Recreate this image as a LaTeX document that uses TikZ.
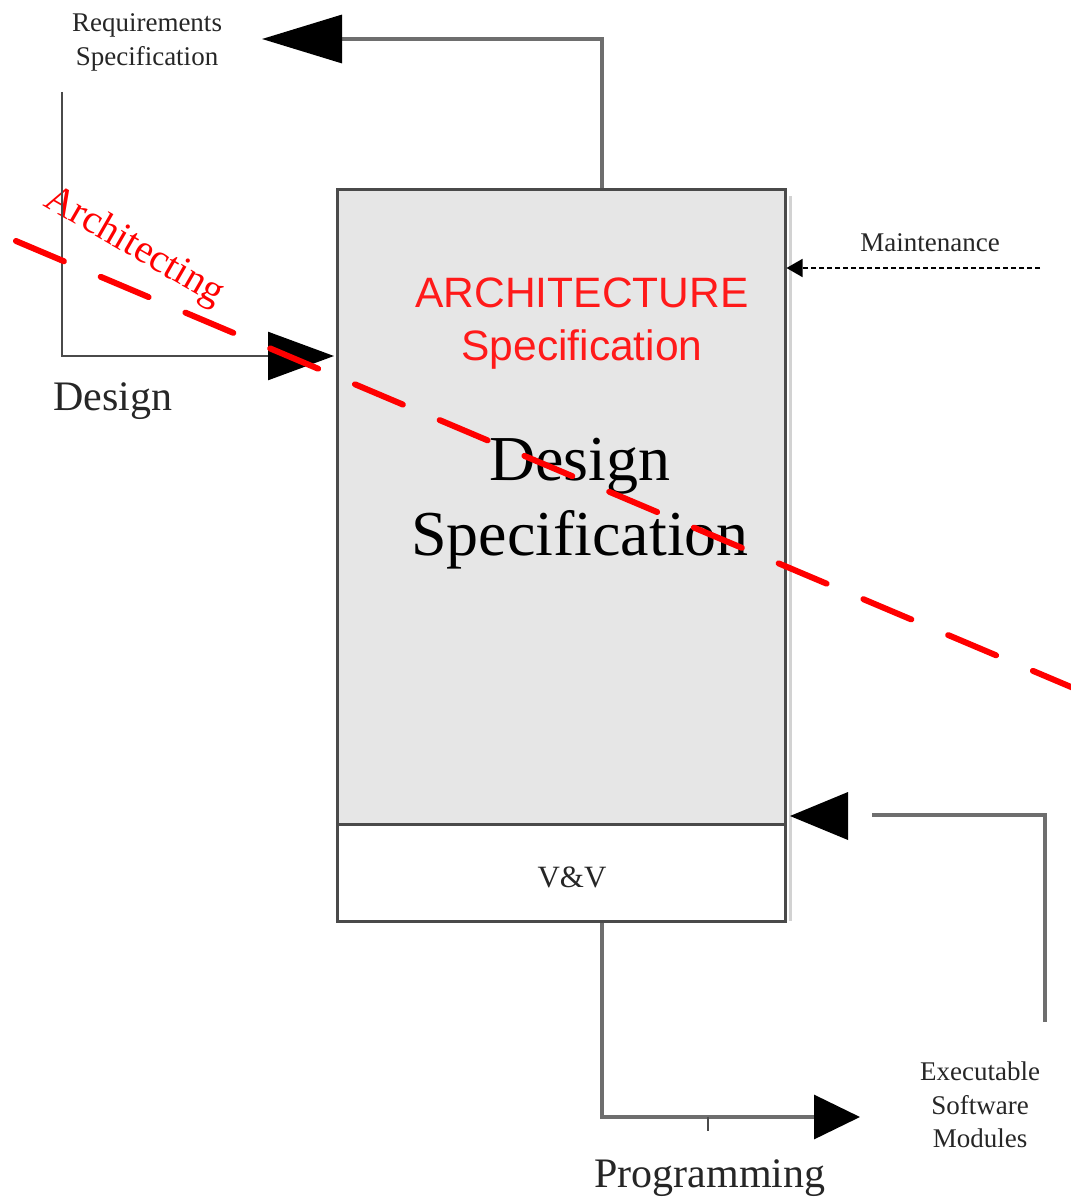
\documentclass[tikz,border=0pt]{standalone}
\usepackage{fontspec}
\setmainfont{Liberation Serif}
\newfontfamily\arialfont{Liberation Sans}
\usetikzlibrary{arrows.meta}
\definecolor{linegray}{HTML}{6E6E6E}
\definecolor{boxgray}{HTML}{E6E6E6}
\definecolor{edgegray}{HTML}{4A4A4A}
\definecolor{txtgray}{HTML}{262626}
\definecolor{archred}{HTML}{FF1A1A}
\begin{document}
\begin{tikzpicture}[x=1pt,y=-1pt,
  conn/.style={draw=linegray, line width=3.2pt},
  boxstyle/.style={draw=edgegray, line width=3pt, inner sep=0pt, minimum width=448pt},
  lbl/.style={inner sep=0pt, align=center, text=txtgray},
  smalltxt/.style={lbl, font=\fontsize{27}{34}\selectfont},
  midtxt/.style={lbl, font=\fontsize{42}{48}\selectfont},
  redline/.style={draw=red, line width=6pt, line cap=round, dash pattern=on 52pt off 40pt}
]
\useasboundingbox (0,0) rectangle (1070,1201);

% main boxes
\draw[line width=3pt, draw=gray!35] (790,196) -- (790,921);
\node[boxstyle, fill=boxgray, minimum height=634pt] (spec) at (561,507) {};
\node[boxstyle, fill=white, minimum height=97pt] (vv) at (561,872.5) {};

% texts
\node[smalltxt] (req) at (147,42) {Requirements\\Specification};
\node[midtxt] (design) at (113,401) {Design};
\node[lbl, text=red, font=\fontsize{40}{44}\selectfont, rotate=-30] (archi) at (134,247) {Architecting};
\node[inner sep=0pt, align=center, text=archred, font=\arialfont\fontsize{42.5}{53}\selectfont] (archspec) at (582,324) {ARCHITECTURE\\Specification};
\node[inner sep=0pt, align=center, text=black, font=\fontsize{64}{75}\selectfont] (despec) at (580,504) {Design\\Specification};
\node[lbl, font=\fontsize{31}{34}\selectfont] (vvt) at (572,877) {V\&V};
\node[smalltxt] (maint) at (930,243) {Maintenance};
\node[smalltxt, font=\fontsize{27}{33.5}\selectfont] (exe) at (980,1105) {Executable\\Software\\Modules};
\node[midtxt] (prog) at (710,1178) {Programming};

% coordinates for free connector ends
\coordinate (rqtip) at (262,39);
\coordinate (dtop) at (62,92);
\coordinate (dtip) at (334,356);
\coordinate (mstart) at (1040,268);
\coordinate (exbot) at (1045,1022);
\coordinate (exend) at (872,815);
\coordinate (ptip) at (860,1117);

% top connector to Requirements Specification
\draw[conn, -{Triangle[length=80pt,width=48pt,color=black]}] ([xshift=41pt]spec.north) |- (rqtip);

% Design connector
\draw[line width=2.5pt, draw=edgegray, -{Triangle[length=66pt,width=48pt,color=black]}] (dtop) |- (dtip);

% Maintenance
\draw[line width=1.5pt, draw=black, dash pattern=on 5pt off 3pt, -{Triangle[length=16pt,width=18pt]}] (mstart) -- (spec.east |- mstart);

% Executable software modules feedback
\draw[conn] (exbot) |- (exend);
\fill[black] (790,816) -- (848,792) -- (848,840) -- cycle;

% Programming
\draw[conn, -{Triangle[length=46pt,width=44pt,color=black]}] ([xshift=41pt]vv.south) |- (ptip);
\draw[line width=1.5pt, draw=edgegray] (708,1117) -- (708,1131);

% red dashed line
\coordinate (ra) at (16,241);
\coordinate (rb) at (1090,695);
\draw[redline] (ra) -- (rb);
\end{tikzpicture}
\end{document}
